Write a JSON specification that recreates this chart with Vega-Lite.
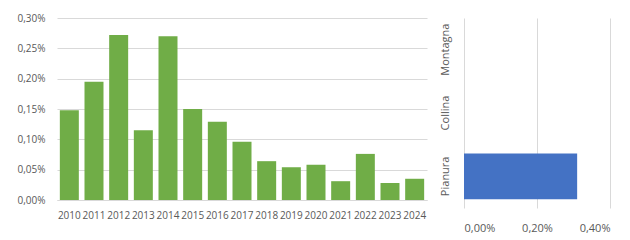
{
  "$schema": "https://vega.github.io/schema/vega-lite/v6.json",
  "padding": {"left": 16, "top": 13, "right": 5, "bottom": 5},
  "background": "white",
  "config": {
    "view": {"stroke": null},
    "font": "Open Sans",
    "axis": {"labelFont": "Open Sans", "labelFontSize": 10, "labelColor": "#595959", "gridColor": "#d9d9d9", "domainColor": "#d9d9d9", "ticks": false, "title": null, "labelOverlap": false}
  },
  "spacing": 11,
  "hconcat": [
    {
      "width": 370,
      "height": 182,
      "data": {"values": [
        {"anno": "2010", "valore": 0.00148},
        {"anno": "2011", "valore": 0.00195},
        {"anno": "2012", "valore": 0.00272},
        {"anno": "2013", "valore": 0.00115},
        {"anno": "2014", "valore": 0.00270},
        {"anno": "2015", "valore": 0.00150},
        {"anno": "2016", "valore": 0.00129},
        {"anno": "2017", "valore": 0.00096},
        {"anno": "2018", "valore": 0.00064},
        {"anno": "2019", "valore": 0.00054},
        {"anno": "2020", "valore": 0.00058},
        {"anno": "2021", "valore": 0.00031},
        {"anno": "2022", "valore": 0.00076},
        {"anno": "2023", "valore": 0.00028},
        {"anno": "2024", "valore": 0.00035}
      ]},
      "mark": {"type": "bar", "color": "#70AD47"},
      "encoding": {
        "x": {"field": "anno", "type": "nominal", "scale": {"paddingInner": 0.23, "paddingOuter": 0.115},
          "axis": {"labelAngle": 0, "labelPadding": 10, "domain": true, "grid": false}},
        "y": {"field": "valore", "type": "quantitative", "scale": {"domain": [0, 0.003], "nice": false},
          "axis": {"values": [0, 0.0005, 0.001, 0.0015, 0.002, 0.0025, 0.003], "domain": false, "grid": true, "labelPadding": 12,
            "labelExpr": "replace(format(datum.value, '.2%'), '.', ',')"}}
      }
    },
    {
      "width": 146,
      "height": 190,
      "data": {"values": [
        {"zona": "Pianura", "valore": 0.00310},
        {"zona": "Collina", "valore": 0},
        {"zona": "Montagna", "valore": 0}
      ]},
      "mark": {"type": "bar", "color": "#4472C4"},
      "encoding": {
        "y": {"field": "zona", "type": "nominal", "sort": ["Montagna", "Collina", "Pianura"],
          "scale": {"paddingInner": 0.28, "paddingOuter": 0.14},
          "axis": {"labelAngle": -90, "labelPadding": 14, "labelFontSize": 11, "domain": false, "grid": false, "labelAlign": "center", "labelBaseline": "bottom"}},
        "x": {"field": "valore", "type": "quantitative", "scale": {"domain": [0, 0.004], "nice": false},
          "axis": {"values": [0, 0.002, 0.004], "domain": false, "grid": true, "labelPadding": 14, "labelFontSize": 11,
            "labelExpr": "replace(format(datum.value, '.2%'), '.', ',')"}}
      }
    }
  ]
}
